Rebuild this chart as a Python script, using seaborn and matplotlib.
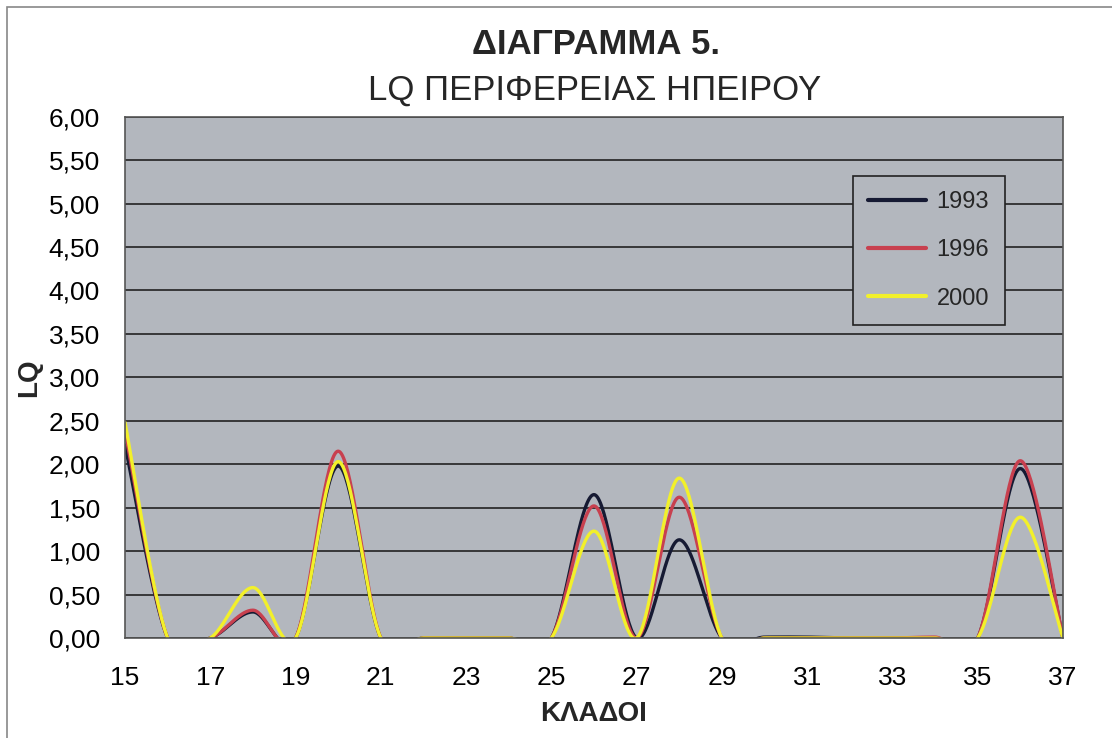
import numpy as np
import pandas as pd
import matplotlib
matplotlib.use("Agg")
import matplotlib.pyplot as plt
import seaborn as sns
from matplotlib.patches import Rectangle
from matplotlib.lines import Line2D

# ---------------------------
# Data
# ---------------------------
kladoi = list(range(15, 38))
years = ["1993", "1996", "2000"]

lq_1993 = [2.22, 0, 0, 0.30, 0, 1.98, 0, 0, 0, 0, 0, 1.65, 0, 1.13, 0,
           0.01, 0.01, 0, 0, 0, 0, 1.95, 0]
lq_1996 = [2.38, 0, 0, 0.32, 0, 2.15, 0, 0, 0, 0, 0, 1.52, 0, 1.62, 0,
           0, 0, 0, 0, 0.01, 0, 2.04, 0]
lq_2000 = [2.48, 0, 0, 0.58, 0, 2.03, 0, 0, 0, 0, 0, 1.23, 0, 1.84, 0,
           0, 0, 0, 0, 0, 0, 1.39, 0]

colors = {"1993": "#161a33", "1996": "#c8404f", "2000": "#f2f02a"}


def smooth(x, y, n=40):
    # Excel-style smoothed line (Catmull-Rom bezier)
    x = np.asarray(x, float)
    y = np.asarray(y, float)
    px = np.concatenate([[x[0]], x, [x[-1]]])
    py = np.concatenate([[y[0]], y, [y[-1]]])
    xs, ys = [], []
    t = np.linspace(0, 1, n)
    for i in range(1, len(px) - 2):
        p0 = np.array([px[i], py[i]])
        p3 = np.array([px[i + 1], py[i + 1]])
        p1 = p0 + (p3 - np.array([px[i - 1], py[i - 1]])) / 6
        p2 = p3 - (np.array([px[i + 2], py[i + 2]]) - p0) / 6
        pts = ((1 - t) ** 3)[:, None] * p0 + (3 * (1 - t) ** 2 * t)[:, None] * p1 \
            + (3 * (1 - t) * t ** 2)[:, None] * p2 + (t ** 3)[:, None] * p3
        xs.extend(pts[:, 0])
        ys.extend(pts[:, 1])
    return xs, ys


frames = []
for yr, vals in zip(years, [lq_1993, lq_1996, lq_2000]):
    sx, sy = smooth(kladoi, vals)
    frames.append(pd.DataFrame({"klados": sx, "lq": sy, "year": yr}))
df = pd.concat(frames, ignore_index=True)

# ---------------------------
# Plot
# ---------------------------
sns.set_style("white")
plt.rcParams["font.family"] = ["Liberation Sans", "DejaVu Sans"]

fig = plt.figure(figsize=(11.12, 7.38), dpi=100)
ax = fig.add_axes([0.1124, 0.1355, 0.8435, 0.7065])
ax.set_facecolor("#b3b7be")

sns.lineplot(data=df, x="klados", y="lq", hue="year", palette=colors,
             sort=False, estimator=None, linewidth=2.4, ax=ax, legend=False)

ax.set_xlim(15, 37)
ax.set_ylim(0, 6)
ax.set_xticks(kladoi[::2])
ax.set_yticks(np.arange(0, 6.01, 0.5))
ax.set_yticklabels([f"{v:.2f}".replace(".", ",") for v in np.arange(0, 6.01, 0.5)])
ax.tick_params(axis="both", labelsize=19, direction="out", length=6, width=1,
               color="#333333", labelcolor="black")
ax.tick_params(axis="x", pad=14)
ax.tick_params(axis="y", pad=12)
ax.grid(axis="y", color="#222222", linewidth=1.2)
ax.set_axisbelow(True)
for s in ax.spines.values():
    s.set_color("#555555")
    s.set_linewidth(1.2)

ax.set_xlabel("ΚΛΑΔΟΙ", fontsize=20, fontweight="bold", labelpad=8)
ax.set_ylabel("LQ", fontsize=20, fontweight="bold")
ax.yaxis.set_label_coords(-0.088, 0.5)

fig.text(0.536, 0.94, "ΔΙΑΓΡΑΜΜΑ 5.", ha="center", va="center",
         fontsize=25, fontweight="bold")
fig.text(0.535, 0.878, "LQ ΠΕΡΙΦΕΡΕΙΑΣ ΗΠΕΙΡΟΥ", ha="center", va="center",
         fontsize=25)

handles = [Line2D([0], [0], color=colors[y], linewidth=3) for y in years]
leg = ax.legend(handles, years, loc="upper left", bbox_to_anchor=(0.776, 0.887),
                fontsize=17, frameon=True, fancybox=False, framealpha=1,
                labelspacing=1.12, handlelength=2.45, borderpad=0.65,
                handletextpad=0.45, borderaxespad=0)
leg.get_frame().set_edgecolor("#222222")
leg.get_frame().set_facecolor("#b3b7be")
leg.get_frame().set_linewidth(1.2)

fig.patches.append(Rectangle((0.0063, -0.01), 1.0, 1.0005, transform=fig.transFigure,
                             fill=False, edgecolor="#888888", linewidth=1.2))

fig.savefig("out.png", dpi=100)
